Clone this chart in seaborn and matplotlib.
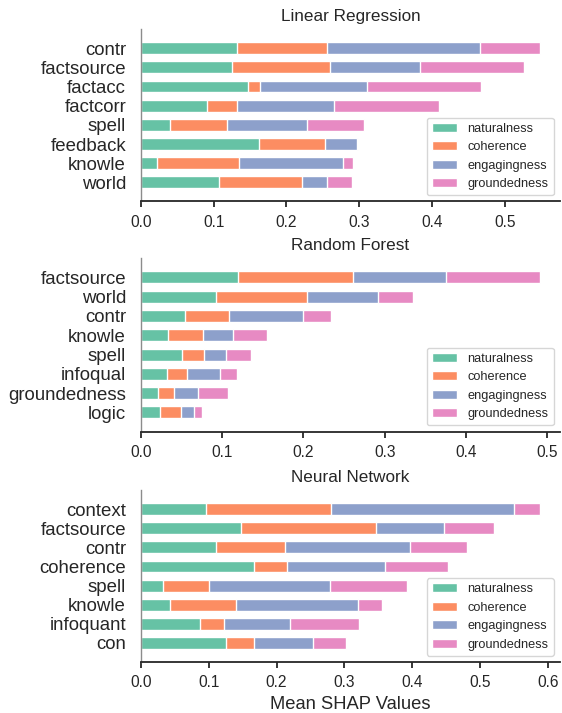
import matplotlib
matplotlib.use("Agg")
import matplotlib.pyplot as plt
import seaborn as sns
import numpy as np
import pandas as pd

metrics = ["naturalness", "coherence", "engagingness", "groundedness"]

# Linear Regression
lr_features = ["contr", "factsource", "factacc", "factcorr", "spell", "feedback", "knowle", "world"]
lr_naturalness = [0.132, 0.125, 0.147, 0.091, 0.040, 0.162, 0.023, 0.108]
lr_coherence = [0.124, 0.135, 0.017, 0.041, 0.078, 0.091, 0.112, 0.113]
lr_engagingness = [0.209, 0.123, 0.147, 0.133, 0.110, 0.044, 0.143, 0.035]
lr_groundedness = [0.083, 0.143, 0.156, 0.145, 0.079, 0.001, 0.014, 0.034]

# Random Forest
rf_features = ["factsource", "world", "contr", "knowle", "spell", "infoqual", "groundedness", "logic"]
rf_naturalness = [0.120, 0.092, 0.055, 0.034, 0.051, 0.032, 0.021, 0.024]
rf_coherence = [0.141, 0.112, 0.053, 0.043, 0.027, 0.025, 0.020, 0.025]
rf_engagingness = [0.115, 0.088, 0.091, 0.037, 0.027, 0.041, 0.029, 0.017]
rf_groundedness = [0.115, 0.043, 0.035, 0.041, 0.031, 0.020, 0.037, 0.009]

# Neural Network
nn_features = ["context", "factsource", "contr", "coherence", "spell", "knowle", "infoquant", "con"]
nn_naturalness = [0.096, 0.147, 0.111, 0.167, 0.033, 0.043, 0.087, 0.125]
nn_coherence = [0.184, 0.200, 0.102, 0.049, 0.068, 0.097, 0.036, 0.042]
nn_engagingness = [0.270, 0.100, 0.183, 0.144, 0.178, 0.180, 0.097, 0.086]
nn_groundedness = [0.038, 0.073, 0.084, 0.093, 0.113, 0.036, 0.102, 0.049]

titles = ["Linear Regression", "Random Forest", "Neural Network"]
panels = [
    (lr_features, [lr_naturalness, lr_coherence, lr_engagingness, lr_groundedness]),
    (rf_features, [rf_naturalness, rf_coherence, rf_engagingness, rf_groundedness]),
    (nn_features, [nn_naturalness, nn_coherence, nn_engagingness, nn_groundedness]),
]

sns.set_theme(style="ticks")
plt.rcParams["font.family"] = ["Liberation Sans", "DejaVu Sans"]
text_color = "#262626"
plt.rcParams["text.color"] = text_color
plt.rcParams["axes.labelcolor"] = text_color
plt.rcParams["xtick.color"] = text_color
plt.rcParams["ytick.color"] = text_color

palette = sns.color_palette("Set2", 4)

fig = plt.figure(figsize=(5.62, 7.13), dpi=100)
left, width = 0.2504, 0.746
positions = [(0.7174, 0.2419), (0.3945, 0.2436), (0.0715, 0.2412)]

for i, ((feats, vals), title) in enumerate(zip(panels, titles)):
    ax = fig.add_axes([left, positions[i][0], width, positions[i][1]])
    df = pd.DataFrame({"feature": feats})
    for m, v in zip(metrics, vals):
        df[m] = v
    cum = df[metrics].cumsum(axis=1)
    handles = {}
    # draw cumulative totals from widest to narrowest so every segment shows
    for j in range(len(metrics) - 1, -1, -1):
        m = metrics[j]
        sns.barplot(x=cum[m], y=df["feature"], color=palette[j], width=0.62,
                    edgecolor="white", linewidth=1.0, orient="h", ax=ax,
                    label=m, saturation=1)
    ax.set_ylim(len(feats), -1)
    ax.set_xlabel("")
    ax.set_ylabel("")
    ax.set_title(title, fontsize=12.3, color=text_color, pad=6)
    sns.despine(ax=ax)
    ax.spines["left"].set_color("#8c8c8c")
    ax.spines["left"].set_linewidth(1.0)
    ax.spines["bottom"].set_color("#262626")
    ax.spines["bottom"].set_linewidth(1.3)
    ax.tick_params(axis="y", length=0, pad=10.6, labelsize=13.4)
    ax.tick_params(axis="x", length=4.5, width=1.3, pad=5, labelsize=11.2)
    ax.xaxis.set_major_formatter(matplotlib.ticker.FormatStrFormatter("%.1f"))
    h, l = ax.get_legend_handles_labels()
    order = [l.index(m) for m in metrics]
    ax.legend([h[k] for k in order], [l[k] for k in order], loc="lower right",
              fontsize=9.2, frameon=True, edgecolor="#cccccc")
    if i == 2:
        ax.set_xlabel("Mean SHAP Values", fontsize=13.2, color=text_color)

fig.savefig("out.png", dpi=100)
